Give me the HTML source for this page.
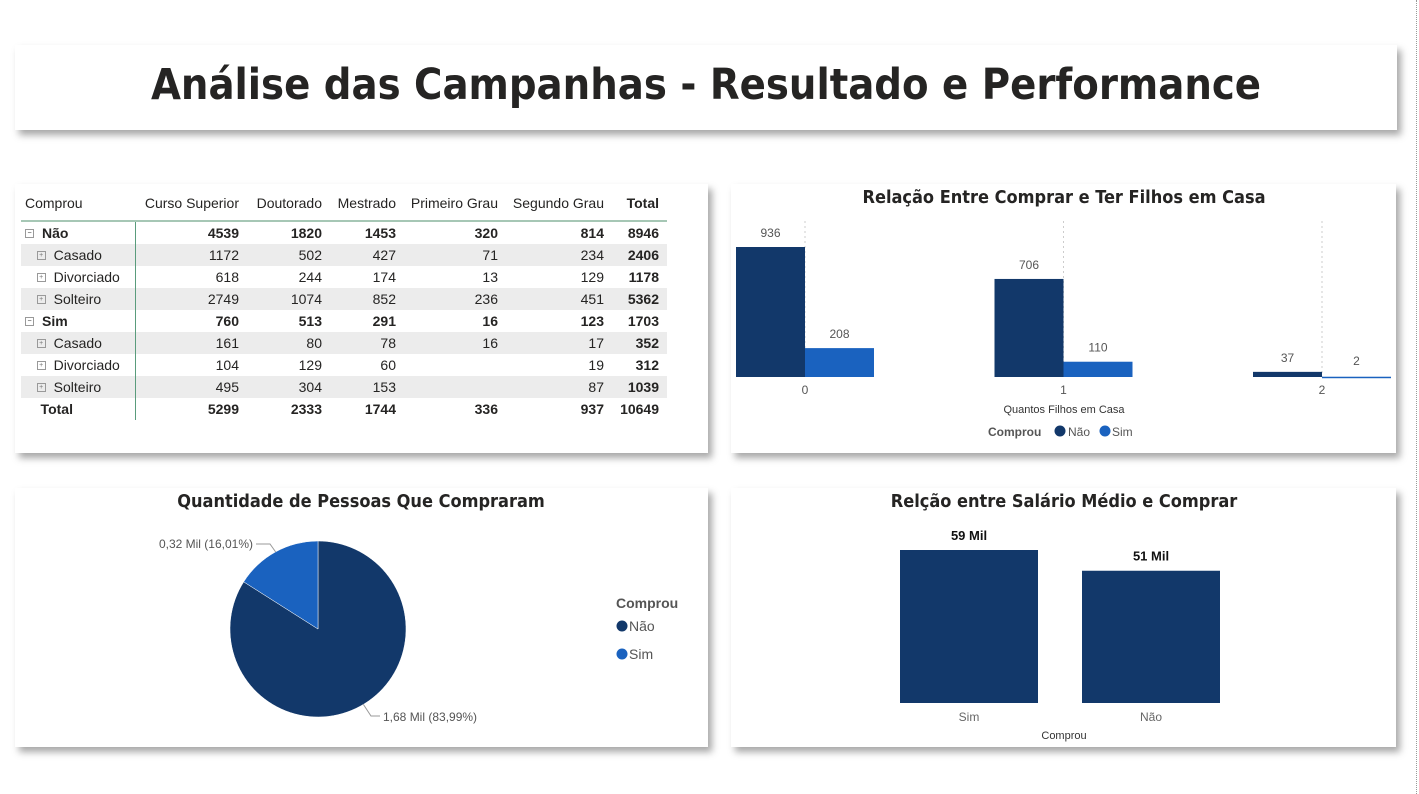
<!DOCTYPE html>
<html><head><meta charset="utf-8">
<style>
body{margin:0;width:1419px;height:794px;background:#fff;position:relative;overflow:hidden;font-family:"Liberation Sans",sans-serif;}
.card{position:absolute;background:#fff;box-shadow:4px 5px 7px rgba(0,0,0,0.35);}
.t{position:absolute;white-space:nowrap;}
table{position:absolute;left:6px;top:1px;border-collapse:collapse;font-size:14px;color:#252423;}
td,th{height:22px;padding:0 0 0 4px;text-align:right;font-weight:normal;white-space:nowrap;}
th{height:35px;font-size:14px;}
td.l,th.l{text-align:left;border-right:1px solid #5a9c7c;}
th.l{border-right:none}
tr.g td{background:#ececec}
tr.b td{font-weight:bold}
thead tr{border-bottom:2px solid #a6c7b5}
.pm{display:inline-block;width:7px;height:7px;border:1px solid #999;font-size:7px;line-height:7px;text-align:center;color:#777;margin-right:8px;vertical-align:3px}
</style></head><body>
<div style="position:absolute;left:1416px;top:0;width:0;height:794px;border-left:1px dotted #999"></div>
<div class="card" style="left:15px;top:45px;width:1382px;height:85px">
<div class="t" style="left:0;width:1382px;top:15px;text-align:center;font-size:43px;font-weight:bold;color:#252423;font-family:'DejaVu Sans Condensed','Liberation Sans',sans-serif;">Análise das Campanhas - Resultado e Performance</div>
</div>

<div class="card" style="left:15px;top:184px;width:693px;height:269px">
<table>
<thead><tr><th class="l" style="width:110px">Comprou</th><th style="width:100px">Curso Superior</th><th style="width:79px">Doutorado</th><th style="width:70px">Mestrado</th><th style="width:98px">Primeiro Grau</th><th style="width:102px">Segundo Grau</th><th style="width:51px;font-weight:bold">Total</th><th style="width:4px"></th></tr></thead>
<tbody>
<tr class="b"><td class="l"><span class="pm">−</span>Não</td><td>4539</td><td>1820</td><td>1453</td><td>320</td><td>814</td><td>8946</td><td></td></tr>
<tr class="g"><td class="l">&nbsp;&nbsp;&nbsp;<span class="pm">+</span>Casado</td><td>1172</td><td>502</td><td>427</td><td>71</td><td>234</td><td><b>2406</b></td><td></td></tr>
<tr><td class="l">&nbsp;&nbsp;&nbsp;<span class="pm">+</span>Divorciado</td><td>618</td><td>244</td><td>174</td><td>13</td><td>129</td><td><b>1178</b></td><td></td></tr>
<tr class="g"><td class="l">&nbsp;&nbsp;&nbsp;<span class="pm">+</span>Solteiro</td><td>2749</td><td>1074</td><td>852</td><td>236</td><td>451</td><td><b>5362</b></td><td></td></tr>
<tr class="b"><td class="l"><span class="pm">−</span>Sim</td><td>760</td><td>513</td><td>291</td><td>16</td><td>123</td><td>1703</td><td></td></tr>
<tr class="g"><td class="l">&nbsp;&nbsp;&nbsp;<span class="pm">+</span>Casado</td><td>161</td><td>80</td><td>78</td><td>16</td><td>17</td><td><b>352</b></td><td></td></tr>
<tr><td class="l">&nbsp;&nbsp;&nbsp;<span class="pm">+</span>Divorciado</td><td>104</td><td>129</td><td>60</td><td></td><td>19</td><td><b>312</b></td><td></td></tr>
<tr class="g"><td class="l">&nbsp;&nbsp;&nbsp;<span class="pm">+</span>Solteiro</td><td>495</td><td>304</td><td>153</td><td></td><td>87</td><td><b>1039</b></td><td></td></tr>
<tr class="b"><td class="l">&nbsp;&nbsp;&nbsp;&nbsp;Total</td><td>5299</td><td>2333</td><td>1744</td><td>336</td><td>937</td><td>10649</td><td></td></tr>
</tbody></table>
</div>

<div class="card" style="left:731px;top:184px;width:665px;height:269px"></div>
<div class="card" style="left:15px;top:488px;width:693px;height:259px"></div>
<div class="card" style="left:731px;top:488px;width:665px;height:259px"></div>

<svg id="svg" width="1419" height="794" style="position:absolute;left:0;top:0" font-family="Liberation Sans, sans-serif">
<text x="1064" y="203" text-anchor="middle" font-size="18" font-weight="bold" fill="#252423" font-family="DejaVu Sans Condensed, Liberation Sans, sans-serif">Relação Entre Comprar e Ter Filhos em Casa</text>
<text x="361" y="507" text-anchor="middle" font-size="18" font-weight="bold" fill="#252423" font-family="DejaVu Sans Condensed, Liberation Sans, sans-serif">Quantidade de Pessoas Que Compraram</text>
<text x="1064" y="507" text-anchor="middle" font-size="18" font-weight="bold" fill="#252423" font-family="DejaVu Sans Condensed, Liberation Sans, sans-serif">Relção entre Salário Médio e Comprar</text>
<g id="g1"></g><g id="g2"></g><g id="g3"></g>
</svg>
<script>
const childCats=["0","1","2"];
const naoVals=[936,706,37];
const simVals=[208,110,2];
const pieLabels=["Não","Sim"];
const pieVals=[1.68,0.32];
const pieText=["1,68 Mil (83,99%)","0,32 Mil (16,01%)"];
const salCats=["Sim","Não"];
const salVals=[59,51];
const salText=["59 Mil","51 Mil"];
const NS="http://www.w3.org/2000/svg";
const DARK="#12386a",BLUE="#1a62bf";
function mk(tag,attrs,parent,txt){const e=document.createElementNS(NS,tag);for(const k in attrs)e.setAttribute(k,attrs[k]);if(txt!==undefined)e.textContent=txt;parent.appendChild(e);return e;}
// chart 1
const g1=document.getElementById('g1');
const base1=377,x0=805,step=258.5,bw=69;
const y1=v=>base1-v*130/936;
childCats.forEach((c,i)=>{
 const cx=x0+i*step;
 const gl=mk('line',{x1:cx,x2:cx,y1:221,y2:base1,stroke:'#ccc','stroke-dasharray':'2,3'},g1);
 
 
 const b1=mk('rect',{x:cx-bw,y:y1(naoVals[i]),width:bw,height:Math.max(base1-y1(naoVals[i]),1.5),fill:DARK},g1);
 
 
 const b2=mk('rect',{x:cx,y:y1(simVals[i]),width:bw,height:Math.max(base1-y1(simVals[i]),1.5),fill:BLUE},g1);
 
 
 const l1=mk('text',{x:cx-bw/2,y:y1(naoVals[i])-10,'text-anchor':'middle','font-size':12,fill:'#555'},g1,naoVals[i]);
 
 
 const l2=mk('text',{x:cx+bw/2,y:Math.min(y1(simVals[i])-10,365),'text-anchor':'middle','font-size':12,fill:'#555'},g1,simVals[i]);
 
 
 const t=mk('text',{x:cx,y:394,'text-anchor':'middle','font-size':12,fill:'#555'},g1,c);
 
 
});
let e=mk('text',{x:1064,y:413,'text-anchor':'middle','font-size':11,fill:'#333'},g1,'Quantos Filhos em Casa');


e=mk('text',{x:988,y:436,'font-size':12,'font-weight':'bold',fill:'#555'},g1,'Comprou');


e=mk('circle',{cx:1060,cy:431,r:5.5,fill:DARK},g1);


e=mk('text',{x:1068,y:436,'font-size':12,fill:'#555'},g1,'Não');


e=mk('circle',{cx:1105,cy:431,r:5.5,fill:BLUE},g1);


e=mk('text',{x:1112,y:436,'font-size':12,fill:'#555'},g1,'Sim');


// pie
const g2=document.getElementById('g2');
const pcx=318,pcy=629,pr=88;
const tot=pieVals.reduce((a,b)=>a+b,0);
const pcols=[DARK,BLUE];
let a0=0;
pieVals.forEach((v,i)=>{
 const a1=a0+v/tot*2*Math.PI;
 const p=(a)=>[pcx+pr*Math.sin(a),pcy-pr*Math.cos(a)];
 const [sx,sy]=p(a0),[ex,ey]=p(a1);
 const large=(a1-a0)>Math.PI?1:0;
 const s=mk('path',{d:`M${pcx},${pcy}L${sx},${sy}A${pr},${pr} 0 ${large} 1 ${ex},${ey}Z`,fill:pcols[i],stroke:'#fff','stroke-width':0.5},g2);
 
 
 const mid=(a0+a1)/2;
 if(i==0){
  const ln=mk('polyline',{points:`${pcx+pr*Math.sin(2.6)},${pcy-pr*Math.cos(2.6)} 371,716 380,716`,fill:'none',stroke:'#999'},g2);
  
  
  const t=mk('text',{x:383,y:721,'font-size':12,fill:'#555'},g2,pieText[i]);
  
  
 } else {
  const ln=mk('polyline',{points:`${pcx+pr*Math.sin(mid)},${pcy-pr*Math.cos(mid)} 270,544 256,544`,fill:'none',stroke:'#999'},g2);
  
  
  const t=mk('text',{x:253,y:548,'text-anchor':'end','font-size':12,fill:'#555'},g2,pieText[i]);
  
  
 }
 a0=a1;
});
e=mk('text',{x:616,y:608,'font-size':14,'font-weight':'bold',fill:'#555'},g2,'Comprou');


pieLabels.forEach((l,i)=>{
 const c=mk('circle',{cx:622,cy:626+i*28,r:5.5,fill:pcols[i]},g2);
 
 
 const t=mk('text',{x:629,y:631+i*28,'font-size':14,fill:'#555'},g2,l);
 
 
});
// salary bars
const g3=document.getElementById('g3');
const base3=703,sy=v=>base3-v*153/59;
salCats.forEach((c,i)=>{
 const x=900+i*182;
 const b=mk('rect',{x:x,y:sy(salVals[i]),width:138,height:base3-sy(salVals[i]),fill:DARK},g3);
 
 
 const t=mk('text',{x:x+69,y:sy(salVals[i])-10,'text-anchor':'middle','font-size':13,'font-weight':'bold',fill:'#111'},g3,salText[i]);
 
 
 const k=mk('text',{x:x+69,y:721,'text-anchor':'middle','font-size':12,fill:'#666'},g3,c);
 
 
});
e=mk('text',{x:1064,y:739,'text-anchor':'middle','font-size':11,fill:'#333'},g3,'Comprou');


</script>
</body></html>
